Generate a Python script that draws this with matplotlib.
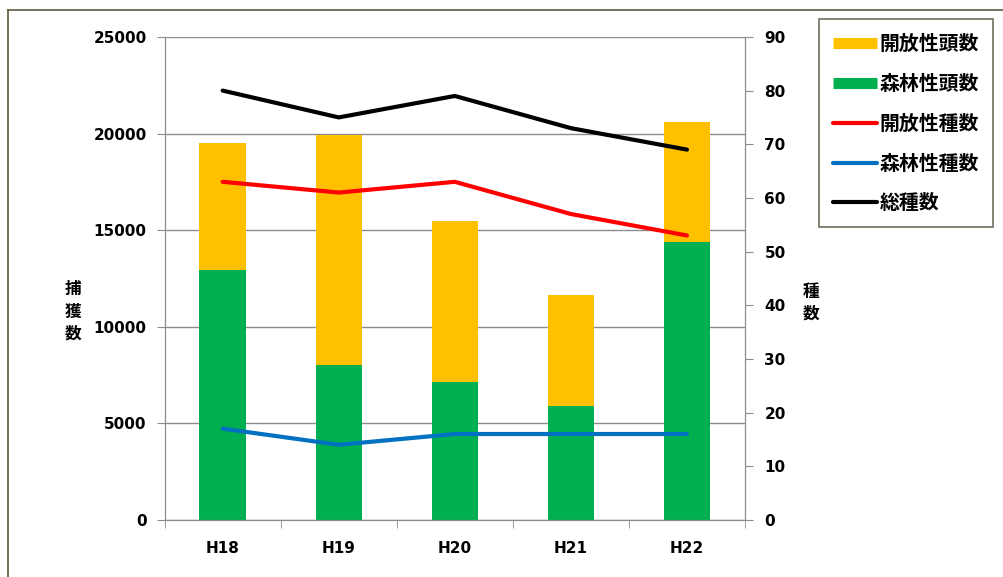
import numpy as np
import matplotlib
matplotlib.use("Agg")
import matplotlib.pyplot as plt
from matplotlib.lines import Line2D

plt.rcParams["font.family"] = ["DejaVu Sans", "Noto Sans CJK JP"]
plt.rcParams["font.weight"] = "bold"

years = ["H18", "H19", "H20", "H21", "H22"]
forest_heads = [12950, 8000, 7150, 5900, 14400]
open_heads = [6550, 11900, 8300, 5750, 6200]
open_species = [63, 61, 63, 57, 53]
forest_species = [17, 14, 16, 16, 16]
total_species = [80, 75, 79, 73, 69]

grid_c = "#8c8c8c"
x = np.arange(len(years))

fig = plt.figure(figsize=(10.04, 5.77), dpi=100)
ax1 = fig.add_axes([0.164, 0.099, 0.578, 0.837])
ax2 = ax1.twinx()

ax1.bar(x, forest_heads, width=0.4, color="#00B050", zorder=2)
ax1.bar(x, open_heads, width=0.4, bottom=forest_heads, color="#FFC000", zorder=2)

ax2.plot(x, open_species, color="#FF0000", lw=3, solid_capstyle="round")
ax2.plot(x, forest_species, color="#0070C0", lw=3, solid_capstyle="round")
ax2.plot(x, total_species, color="black", lw=3, solid_capstyle="round")

ax1.set_xlim(-0.5, len(years) - 0.5)
ax1.set_ylim(0, 25000)
ax1.set_yticks(np.arange(0, 25001, 5000))
ax2.set_ylim(0, 90)
ax2.set_yticks(np.arange(0, 91, 10))

ax1.yaxis.grid(True, color=grid_c, lw=1, zorder=0)
ax1.set_axisbelow(True)

ax1.set_xticks(x)
ax1.set_xticklabels(years)
ax1.set_xticks(np.arange(-0.5, len(years), 1.0), minor=True)
ax1.tick_params(axis="x", which="major", length=0, pad=15, labelsize=11)
ax1.tick_params(axis="x", which="minor", length=6, color=grid_c)
ax1.tick_params(axis="y", length=6, color=grid_c, labelsize=11, pad=7)
ax2.tick_params(axis="y", length=6, color=grid_c, labelsize=11, pad=8)

for a in (ax1, ax2):
    for s in a.spines.values():
        s.set_color(grid_c)
    a.spines["top"].set_visible(False)

for lab in ax1.get_xticklabels() + ax1.get_yticklabels() + ax2.get_yticklabels():
    lab.set_fontweight("bold")

fig.text(0.073, 0.46, "捕\n獲\n数", fontsize=12, fontweight="bold",
         ha="center", va="center", linespacing=1.3,
         family=["Noto Sans CJK JP"])
fig.text(0.808, 0.475, "種\n数", fontsize=12, fontweight="bold",
         ha="center", va="center", linespacing=1.3,
         family=["Noto Sans CJK JP"])

handles = [
    Line2D([], [], color="#FFC000", lw=8, solid_capstyle="butt"),
    Line2D([], [], color="#00B050", lw=8, solid_capstyle="butt"),
    Line2D([], [], color="#FF0000", lw=3, solid_capstyle="round"),
    Line2D([], [], color="#0070C0", lw=3, solid_capstyle="round"),
    Line2D([], [], color="black", lw=3, solid_capstyle="round"),
]
labels = ["開放性頭数", "森林性頭数", "開放性種数", "森林性種数", "総種数"]
leg = fig.legend(handles, labels, loc="upper left",
                 bbox_to_anchor=(0.816, 0.967), frameon=True, fancybox=False,
                 edgecolor="#4a4a36", handlelength=2.2, handletextpad=0.15,
                 labelspacing=0.95, borderpad=0.7, borderaxespad=0,
                 prop={"family": "Noto Sans CJK JP", "weight": "bold", "size": 14.3})
leg.get_frame().set_linewidth(1.2)

# outer chart border
fig.add_artist(Line2D([0.008, 1.0], [0.983, 0.983], color="#5f5a3f", lw=1.2))
fig.add_artist(Line2D([0.008, 0.008], [0.0, 0.983], color="#5f5a3f", lw=1.2))

fig.savefig("out.png", dpi=100)
